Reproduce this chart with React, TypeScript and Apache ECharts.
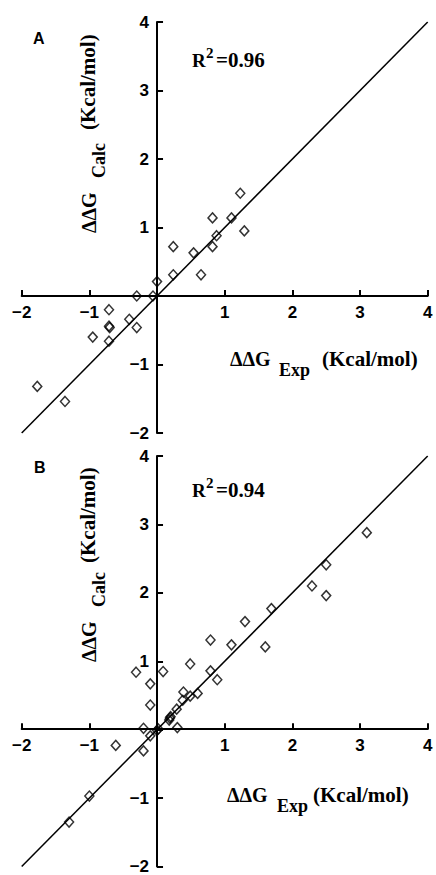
import React, { useEffect, useRef } from "react";
import * as echarts from "echarts";

const xTicks = [-2, -1, 0, 1, 2, 3, 4];
const yTicks = [-2, -1, 0, 1, 2, 3, 4];

const pointsA: number[][] = [
  [1.23, 1.5], [0.82, 1.14], [1.1, 1.14], [1.29, 0.95], [0.88, 0.88],
  [0.82, 0.72], [0.24, 0.72], [0.54, 0.63], [0.24, 0.31], [0.65, 0.31],
  [0.0, 0.21], [-0.3, 0.0], [-0.06, 0.0], [-0.71, -0.2], [-0.71, -0.44],
  [-0.7, -0.46], [-0.41, -0.34], [-0.3, -0.46], [-0.95, -0.6], [-0.71, -0.66],
  [-1.77, -1.32], [-1.36, -1.54],
];

const pointsB: number[][] = [
  [3.1, 2.88], [2.5, 2.41], [2.29, 2.1], [2.5, 1.96], [1.69, 1.77],
  [1.3, 1.58], [0.79, 1.31], [1.1, 1.24], [1.6, 1.21], [0.49, 0.96],
  [-0.31, 0.84], [0.09, 0.85], [0.79, 0.86], [-0.1, 0.67], [0.89, 0.73],
  [0.39, 0.55], [0.6, 0.53], [0.49, 0.49], [0.38, 0.43], [-0.1, 0.36],
  [0.29, 0.3], [0.19, 0.17], [0.2, 0.19], [0.18, 0.14], [-0.2, 0.02],
  [0.3, 0.03], [0.0, -0.01], [0.02, 0.01], [-0.1, -0.09], [-0.61, -0.23],
  [-0.2, -0.31], [-1.0, -0.97], [-1.3, -1.35],
];

const fitLine: number[][] = [[-2, -2], [4, 4]];

const r2Labels = ["0.96", "0.94"];
const panelLabels = ["A", "B"];

const SERIF = "Liberation Serif";
const SANS = "Liberation Sans";

function fmt(v: number) {
  if (v === 0) return "";
  return v < 0 ? "\u2212" + Math.abs(v) : String(v);
}

export default function App() {
  const ref = useRef<HTMLDivElement>(null);
  useEffect(() => {
    if (!ref.current) return;
    const chart = echarts.init(ref.current, undefined, { renderer: "svg" });
    const GW = 406;
    const grids = [
      { left: 21.7, top: 22, width: GW, height: 411 },
      { left: 21.7, top: 456, width: GW, height: 412 },
    ];
    const xMin = xTicks[0];
    const xMax = xTicks[xTicks.length - 1];
    const yMin = yTicks[0];
    const yMax = yTicks[yTicks.length - 1];
    const mkX = (i: number) => ({
      type: "value",
      gridIndex: i,
      position: "bottom",
      offset: -(grids[i].height * (0 - yMin)) / (yMax - yMin),
      min: xMin,
      max: xMax,
      interval: 1,
      axisLine: { onZero: false, lineStyle: { color: "#000", width: 2 } },
      axisTick: { show: true, inside: true, length: 6, lineStyle: { color: "#000", width: 2 } },
      axisLabel: {
        formatter: fmt, color: "#000", fontFamily: SANS, fontWeight: "bold", fontSize: 17, margin: 8,
        showMinLabel: true, showMaxLabel: true,
      },
      splitLine: { show: false },
    });
    const mkY = (i: number) => ({
      type: "value",
      gridIndex: i,
      position: "left",
      offset: -(GW * (0 - xMin)) / (xMax - xMin),
      min: yMin,
      max: yMax,
      interval: 1,
      axisLine: { onZero: false, lineStyle: { color: "#000", width: 2 } },
      axisTick: { show: true, inside: true, length: 6, lineStyle: { color: "#000", width: 2 } },
      axisLabel: {
        formatter: fmt, color: "#000", fontFamily: SANS, fontWeight: "bold", fontSize: 17, margin: 8,
        showMinLabel: true, showMaxLabel: true,
      },
      splitLine: { show: false },
    });

    const txt = (text: string, x: number, y: number, size: number, family = SERIF, align = "left") => ({
      type: "text",
      x,
      y,
      style: {
        text,
        fill: "#000",
        fontFamily: family,
        fontSize: size,
        fontWeight: "bold",
        textAlign: align,
        textVerticalAlign: "middle",
      },
    });

    const xTitle = (dy: number, g: number, e: number, k: number) => [
      txt("\u0394\u0394G", g, dy, 20),
      txt("Exp", e, dy + 11, 18),
      txt("(Kcal/mol)", k, dy, 21),
    ];

    const yTitle = (x0: number, y0: number, calcX: number, kX: number) => ({
      type: "group",
      x: x0,
      y: y0,
      rotation: Math.PI / 2,
      children: [
        txt("\u0394\u0394G", 0, 0, 20),
        txt("Calc", calcX, 10, 18),
        txt("(Kcal/mol)", kX, -1, 21),
      ],
    });

    const r2 = (y: number, val: string) => [
      txt("R", 192, y, 19),
      txt("2", 206, y - 7, 15),
      txt("=" + val, 216, y, 21),
    ];

    chart.setOption({
      animation: false,
      grid: grids,
      xAxis: [mkX(0), mkX(1)],
      yAxis: [mkY(0), mkY(1)],
      series: [
        {
          type: "line", xAxisIndex: 0, yAxisIndex: 0, data: fitLine, showSymbol: false, silent: true,
          lineStyle: { color: "#000", width: 1.5 }, z: 1,
        },
        {
          type: "scatter", xAxisIndex: 0, yAxisIndex: 0, data: pointsA, symbol: "diamond", symbolSize: [9, 10],
          itemStyle: { color: "rgba(0,0,0,0)", borderColor: "#000", borderWidth: 1.5 }, z: 3,
        },
        {
          type: "line", xAxisIndex: 1, yAxisIndex: 1, data: fitLine, showSymbol: false, silent: true,
          lineStyle: { color: "#000", width: 1.5 }, z: 1,
        },
        {
          type: "scatter", xAxisIndex: 1, yAxisIndex: 1, data: pointsB, symbol: "diamond", symbolSize: [9, 10],
          itemStyle: { color: "rgba(0,0,0,0)", borderColor: "#000", borderWidth: 1.5 }, z: 3,
        },
      ],
      graphic: [
        txt(panelLabels[0], 33, 38, 16, SANS),
        txt(panelLabels[1], 34, 467.5, 16, SANS),
        ...r2(60, r2Labels[0]),
        ...r2(490, r2Labels[1]),
        ...xTitle(358.5, 230, 279, 322),
        ...xTitle(794.5, 227, 277, 313),
        yTitle(89, 233, 55, 103),
        yTitle(89, 662, 55, 99),
      ],
    });
    return () => chart.dispose();
  }, []);
  return (
    <div
      ref={ref}
      style={{ position: "absolute", left: 0, top: 0, width: 436, height: 875, background: "#fff" }}
    />
  );
}
